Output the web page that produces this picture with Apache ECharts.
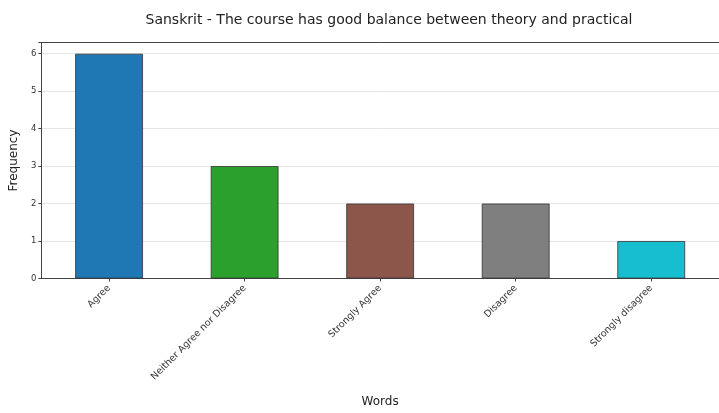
<!DOCTYPE html>
<html><head><meta charset="utf-8">
<script src="https://cdn.jsdelivr.net/npm/echarts@6/dist/echarts.min.js"></script>
<style>html,body{margin:0;padding:0;background:#fff}#c{width:719px;height:413px}</style>
</head><body><div id="c"></div>
<script>
const categories = ["Agree", "Neither Agree nor Disagree", "Strongly Agree", "Disagree", "Strongly disagree"];
const values = [6, 3, 2, 2, 1];
const barColors = ["#1f77b4", "#2ca02c", "#8c564b", "#7f7f7f", "#17becf"];
const yTicks = [0, 1, 2, 3, 4, 5, 6];

const chart = echarts.init(document.getElementById('c'), null, {renderer: 'canvas'});
chart.setOption({
  animation: false,
  backgroundColor: '#fff',
  title: {
    text: 'Sanskrit - The course has good balance between theory and practical',
    left: 384, top: 8, textAlign: 'center',
    textStyle: {fontFamily: 'DejaVu Sans', fontSize: 14, fontWeight: 'normal', color: '#222'}
  },
  grid: {left: 40.5, right: -6.5, top: 42.5, bottom: 134.5, containLabel: false, show: false},
  xAxis: {
    type: 'category', data: categories,
    name: 'Words', nameLocation: 'middle', nameGap: 117,
    nameTextStyle: {fontFamily: 'DejaVu Sans', fontSize: 12, color: '#222'},
    axisLine: {show: true, lineStyle: {color: '#444', width: 1}},
    axisTick: {show: true, alignWithLabel: true, length: 3, lineStyle: {color: '#444'}},
    axisLabel: {rotate: 45, fontFamily: 'DejaVu Sans', fontSize: 9.5, color: '#333', margin: 8, interval: 0}
  },
  yAxis: {
    type: 'value', min: 0, max: 6.3, interval: 1,
    name: 'Frequency', nameLocation: 'middle', nameGap: 14,
    nameTextStyle: {fontFamily: 'DejaVu Sans', fontSize: 12, color: '#222'},
    axisLine: {show: true, lineStyle: {color: '#444', width: 1}},
    axisTick: {show: true, length: 3, lineStyle: {color: '#444'}},
    axisLabel: {fontFamily: 'DejaVu Sans', fontSize: 8.5, color: '#333', margin: 5,
      formatter: v => yTicks.includes(v) ? String(v) : ''},
    splitLine: {show: true, lineStyle: {color: '#e6e6e6', width: 1, type: 'solid'}}
  },
  series: [{
    type: 'bar',
    barWidth: '50%',
    data: values.map((v, i) => ({value: v, itemStyle: {color: barColors[i]}})),
    itemStyle: {borderColor: '#333', borderWidth: 0.8}
  }],
  graphic: [{
    type: 'line', z: 100, shape: {x1: 40.5, y1: 42.5, x2: 719, y2: 42.5},
    style: {stroke: '#444', lineWidth: 1}, silent: true
  }]
});
</script></body></html>
